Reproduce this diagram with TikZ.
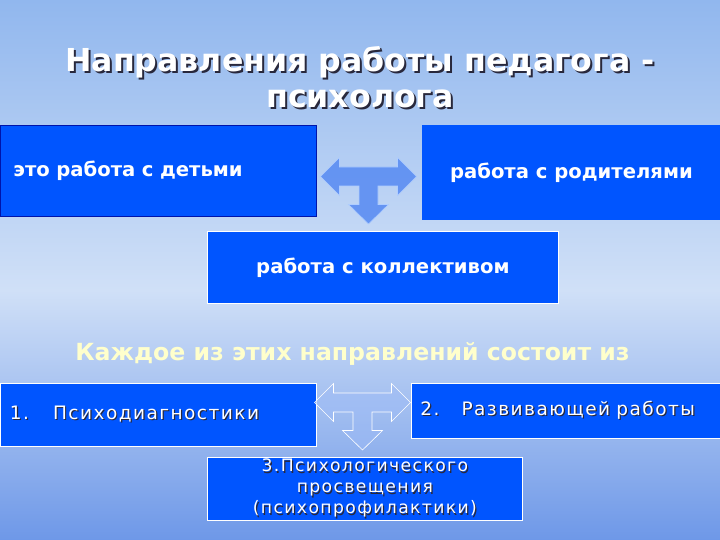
\documentclass[tikz,border=0pt]{standalone}
\usepackage{fontspec}
\setmainfont{DejaVu Sans}
\newfontfamily\spacedfont[LetterSpace=8]{DejaVu Sans}
\usetikzlibrary{positioning}

\definecolor{skytop}{RGB}{145,183,238}
\definecolor{skylow}{RGB}{208,224,247}
\definecolor{seamid}{RGB}{150,182,238}
\definecolor{seabottom}{RGB}{110,152,232}
\definecolor{boxblue}{RGB}{0,85,255}
\definecolor{boxborder}{RGB}{0,20,170}
\definecolor{creamtext}{RGB}{255,255,204}
\definecolor{shadowgray}{RGB}{40,40,60}
\definecolor{arrowfill}{RGB}{92,142,242}
\definecolor{arrowline}{RGB}{175,205,255}

% text with a dark drop shadow
\newcommand{\txtshadow}[2][1.2pt]{\makebox[0pt][l]{\hspace{#1}\raisebox{-#1}{\textcolor{shadowgray}{#2}}}#2}

\tikzset{
    box/.style={draw=white, fill=boxblue, text=white, inner sep=0pt, line width=0.8pt, anchor=north west},
    boxtext/.style={font=\bfseries\fontsize{19.6}{23}\selectfont},
    listtext/.style={font=\spacedfont\fontsize{18.5}{21}\selectfont},
    tarrow/.pic={
        \draw[pic actions] (-48,0) -- (-29,-19) -- (-29,-9.5) -- (29,-9.5) -- (29,-19)
            -- (48,0) -- (29,19) -- (29,9.5) -- (9.5,9.5) -- (9.5,28) -- (20,28)
            -- (0,47.5) -- (-20,28) -- (-9.5,28) -- (-9.5,9.5) -- (-29,9.5)
            -- (-29,19) -- cycle;
    }
}

\begin{document}
\begin{tikzpicture}[x=1pt, y=-1pt]
    \useasboundingbox (0,0) rectangle (720,540);

    % sky and sea
    \shade[top color=skytop, bottom color=skylow] (0,0) rectangle (720,290.5);
    \shade[top color=skylow, middle color=seamid, bottom color=seabottom] (0,290) rectangle (720,540);

    % Title
    \node[text=white, align=center, font=\bfseries\fontsize{31.6}{36}\selectfont] (title) at (360,78)
        {\txtshadow[2pt]{Направления работы педагога -}\\\txtshadow[2pt]{психолога}};

    % Directions
    \node[box, draw=boxborder, boxtext, minimum width=316, minimum height=91,
          text width=290, align=left, inner xsep=13pt] (children) at (0,125) {это работа с детьми};
    \node[box, draw=boxblue, boxtext, minimum width=298, minimum height=94] (parents) at (422,125)
        {работа с родителями};
    \node[box, boxtext, minimum width=351, minimum height=72] (staff) at (207,231)
        {работа с коллективом};

    \pic[fill=arrowfill, fill opacity=0.9, draw=arrowline, line width=0.6pt] at (368.5,176.5) {tarrow};

    % Parts
    \node[text=creamtext, anchor=base, font=\bfseries\fontsize{23.6}{27}\selectfont] (parts) at (352.5,360)
        {Каждое из этих направлений состоит из};

    \node[box, listtext, minimum width=316, minimum height=63, text width=297,
          align=left, inner xsep=9.5pt] (diagnostics) at (0,383)
        {\txtshadow{1.\hspace{24pt}Психодиагностики}};
    \node[box, listtext, minimum width=309, minimum height=55, text width=291,
          align=left, inner xsep=9pt] (development) at (411,383)
        {\txtshadow{2.\hspace{22pt}Развивающей работы}};
    \node[box, align=center, font=\spacedfont\fontsize{17.2}{21}\selectfont,
          minimum width=315, minimum height=63] (education) at (207,457)
        {\txtshadow{3.Психологического}\\\txtshadow{просвещения}\\\txtshadow{(психопрофилактики)}};

    \pic[fill=arrowfill!60!white, fill opacity=0.45, draw=white, line width=0.6pt] at (362.5,402.5) {tarrow};
\end{tikzpicture}
\end{document}
